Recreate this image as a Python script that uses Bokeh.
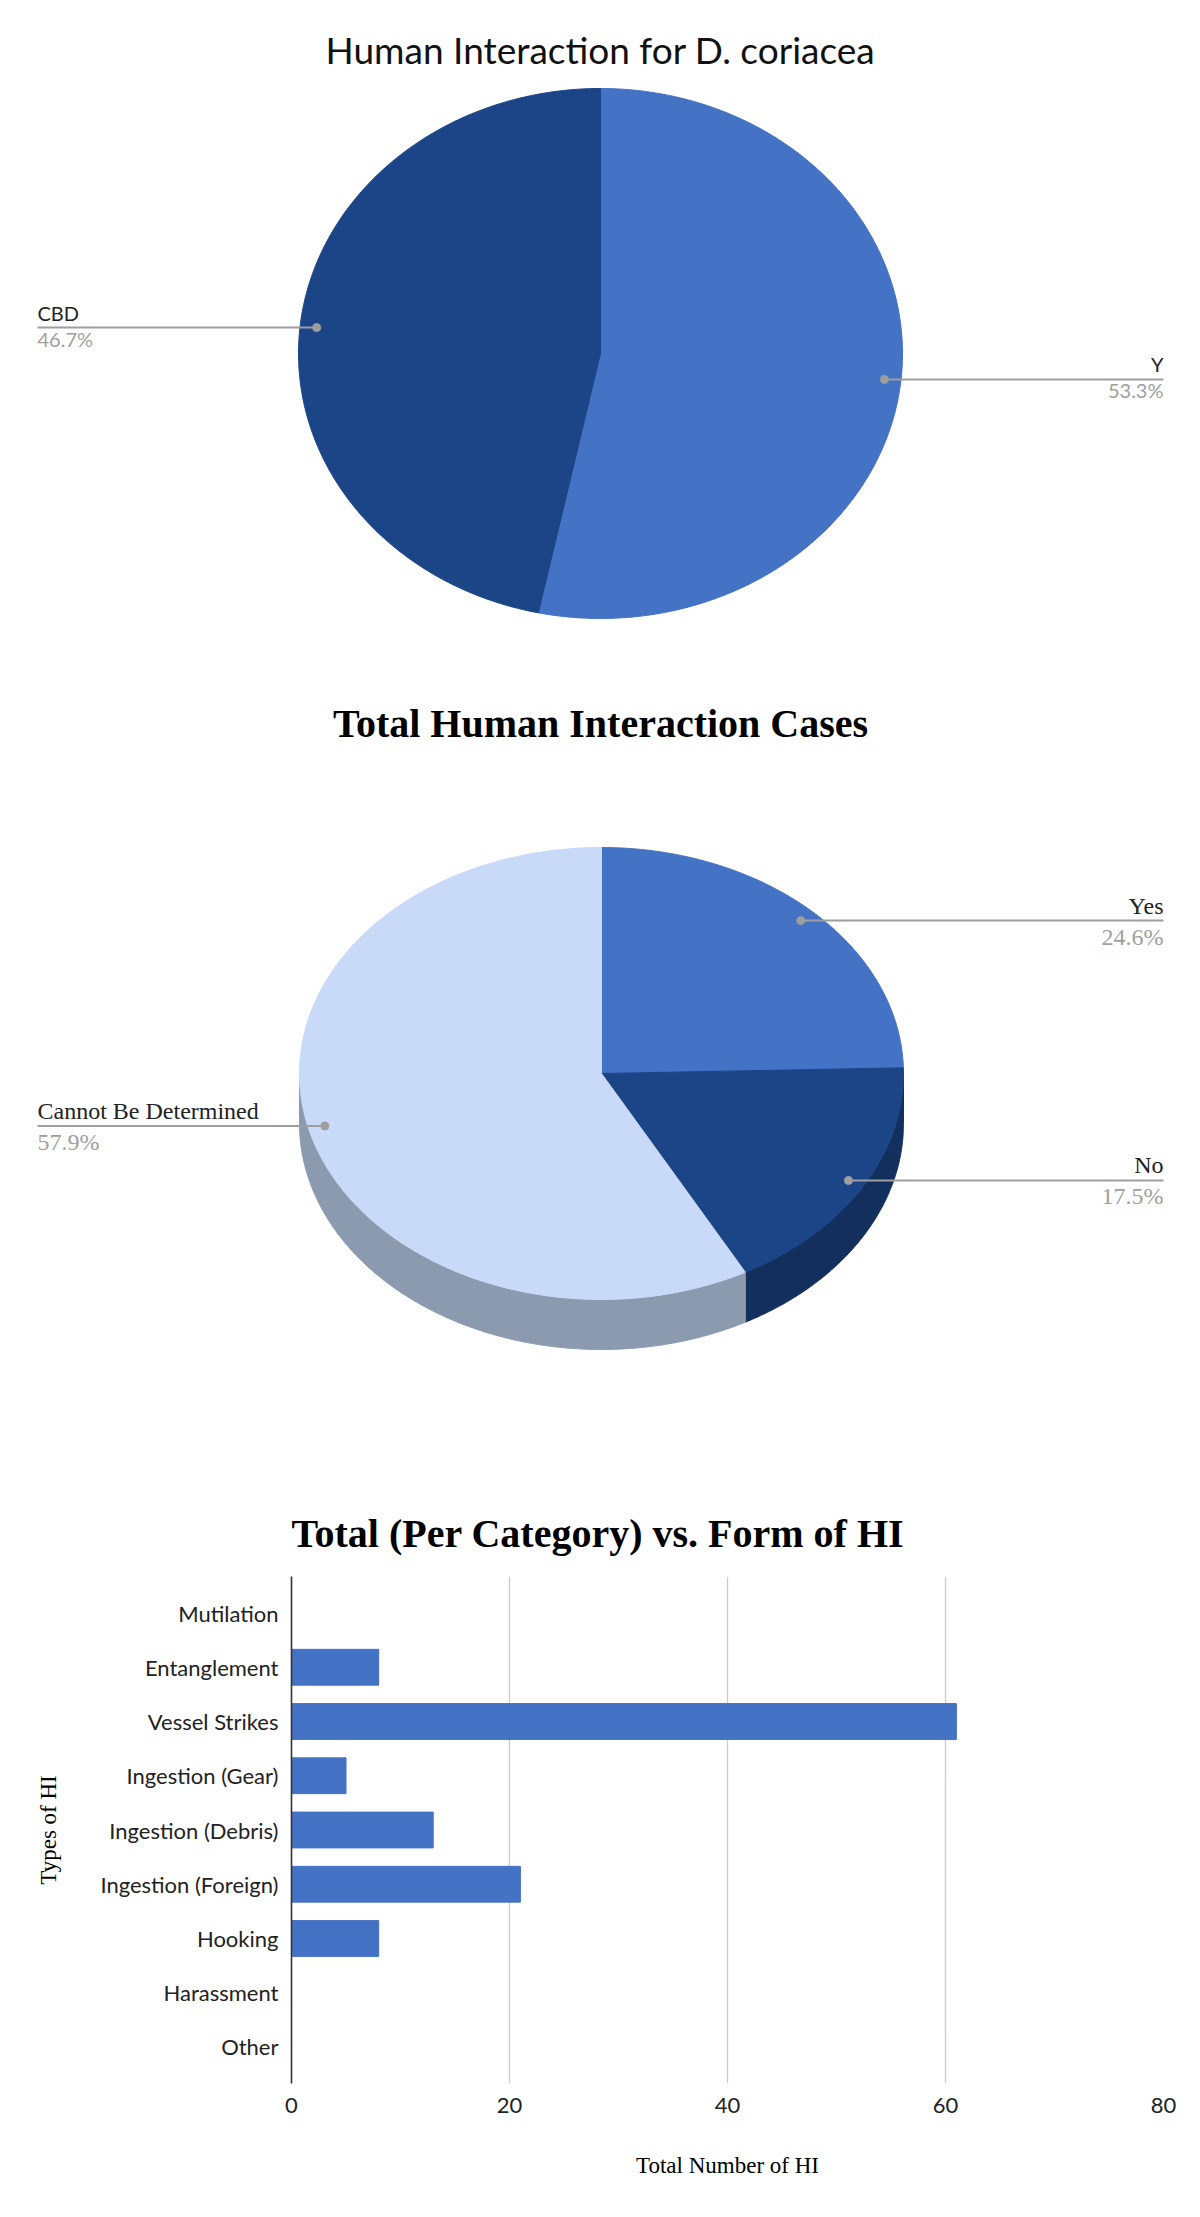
import numpy as np
from bokeh.plotting import figure
from bokeh.models import ColumnDataSource, Range1d, FactorRange, FixedTicker
from bokeh.layouts import column
from bokeh.core.properties import value
from bokeh.embed import file_html
from bokeh.resources import INLINE

# ---------------- data ----------------
dc_title = "Human Interaction for D. coriacea"
dc_labels = ["Y", "CBD"]
dc_pct = [53.3, 46.7]
dc_colors = ["#4472C4", "#1C4587"]

tot_title = "Total Human Interaction Cases"
tot_labels = ["Yes", "No", "Cannot Be Determined"]
tot_pct = [24.6, 17.5, 57.9]
tot_colors = ["#4472C4", "#1C4587", "#C9DAF8"]
tot_side_colors = ["#2E5190", "#132F5E", "#8C9AB0"]

bar_title = "Total (Per Category) vs. Form of HI"
hi_types = ["Mutilation", "Entanglement", "Vessel Strikes", "Ingestion (Gear)",
            "Ingestion (Debris)", "Ingestion (Foreign)", "Hooking", "Harassment", "Other"]
hi_counts = [0, 8, 61, 5, 13, 21, 8, 0, 0]
x_ticks = [0, 20, 40, 60, 80]
x_label = "Total Number of HI"
y_label = "Types of HI"

# ---------------- layout constants ----------------
W = 1200
LINE_GRAY = "#9E9E9E"
LEFT_EDGE, RIGHT_EDGE = 37, 1163


def arc(cx, cy, rx, ry, t0, t1, n=240):
    t = np.radians(np.linspace(t0, t1, n))
    return cx + rx * np.sin(t), cy - ry * np.cos(t)


def slice_bounds(pcts):
    cum = np.concatenate([[0.0], np.cumsum(pcts)])
    return cum[:-1] * 3.6, cum[1:] * 3.6


def pie_figure(height, top):
    p = figure(width=W, height=height, x_range=Range1d(0, W),
               y_range=Range1d(top + height, top), output_backend="svg",
               toolbar_location=None, min_border=0, outline_line_color=None,
               x_axis_type=None, y_axis_type=None)
    p.frame_align = False
    return p


def draw_pie(p, cx, cy, rx, ry, pcts, labels, colors, side_colors=None, depth=0,
             font="Lato", size="18px", name_dy=-15, pct_dy=12):
    a0, a1 = slice_bounds(pcts)
    # 3D side faces (front half only)
    if depth > 0:
        sx, sy, sc = [], [], []
        for s, e, c in zip(a0, a1, side_colors):
            lo, hi = max(s, 90.0), min(e, 270.0)
            if hi > lo:
                ax, ay = arc(cx, cy, rx, ry, lo, hi)
                sx.append(list(ax) + list(ax[::-1]))
                sy.append(list(ay) + list((ay + depth)[::-1]))
                sc.append(c)
        p.patches(xs=sx, ys=sy, fill_color=sc, line_color=sc, line_width=1)
    xs, ys = [], []
    for s, e in zip(a0, a1):
        ax, ay = arc(cx, cy, rx, ry, s, e)
        xs.append([cx] + list(ax))
        ys.append([cy] + list(ay))
    p.patches(xs=xs, ys=ys, fill_color=colors, line_color=colors, line_width=1)

    # leader lines and labels
    mid = np.radians((a0 + a1) / 2)
    k = 0.945
    dx = cx + k * rx * np.sin(mid)
    dy = cy - k * ry * np.cos(mid)
    right = np.sin(mid) > 0
    edge = np.where(right, RIGHT_EDGE, LEFT_EDGE)
    p.segment(x0=dx, y0=dy, x1=edge, y1=dy, line_color=LINE_GRAY, line_width=2)
    p.scatter(x=dx, y=dy, size=8, color=LINE_GRAY)
    for i in range(len(labels)):
        align = "right" if right[i] else "left"
        p.text(x=[edge[i]], y=[dy[i] + name_dy], text=[labels[i]], text_align=align,
               text_baseline="alphabetic", text_font=value(font),
               text_font_size=size, text_color="#222222")
        p.text(x=[edge[i]], y=[dy[i] + pct_dy], text=[f"{pcts[i]:.1f}%"], text_align=align,
               text_baseline="alphabetic", text_font=value(font),
               text_font_size=size, text_color="#A0A0A0")


# ---------------- chart 1 ----------------
p1 = pie_figure(688, 0)
p1.text(x=[600], y=[49], text=[dc_title], text_align="center", text_baseline="alphabetic",
        text_font=value("Lato"), text_font_size="37px", text_color="#111111")
draw_pie(p1, 600, 353, 302, 265, dc_pct, dc_labels, dc_colors, font="Lato", size="20px",
         name_dy=-15, pct_dy=11)

# ---------------- chart 2 ----------------
p2 = pie_figure(770, 688)
p2.text(x=[600], y=[723], text=[tot_title], text_align="center", text_baseline="alphabetic",
        text_font=value("Liberation Serif"), text_font_style="bold",
        text_font_size="40px", text_color="#000000")
draw_pie(p2, 601, 1073, 302, 226, tot_pct, tot_labels, tot_colors,
         side_colors=tot_side_colors, depth=50, font="Liberation Serif", size="24px",
         name_dy=-15, pct_dy=16)

# ---------------- chart 3 ----------------
p3 = figure(width=W, height=759,
            y_range=FactorRange(factors=hi_types[::-1], range_padding=0.173,
                                range_padding_units="absolute"),
            x_range=Range1d(0, 80), output_backend="svg", toolbar_location=None,
            min_border_left=291, min_border_right=37, min_border_top=118,
            min_border_bottom=134, outline_line_color=None)
p3.frame_align = False
src = ColumnDataSource(dict(types=hi_types, counts=hi_counts))
p3.hbar(y="types", right="counts", height=0.66, source=src, color="#4472C4")

p3.title.text = bar_title
p3.title.text_font = "Liberation Serif"
p3.title.text_font_style = "bold"
p3.title.text_font_size = "40px"
p3.title.align = "left"
p3.title.offset = 0
p3.title.standoff = 41
p3.title.text_color = "#000000"

p3.xaxis.ticker = FixedTicker(ticks=x_ticks)
p3.xaxis.axis_line_color = None
p3.xaxis.major_tick_line_color = None
p3.xaxis.minor_tick_line_color = None
p3.xaxis.major_label_text_font = "Lato"
p3.xaxis.major_label_text_font_size = "22px"
p3.xaxis.major_label_text_color = "#222222"
p3.xaxis.major_label_standoff = 8
p3.xaxis.axis_label = x_label
p3.xaxis.axis_label_text_font = "Liberation Serif"
p3.xaxis.axis_label_text_font_style = "normal"
p3.xaxis.axis_label_text_font_size = "23px"
p3.xaxis.axis_label_text_color = "#000000"
p3.xaxis.axis_label_standoff = 37

p3.yaxis.axis_line_color = "#333333"
p3.yaxis.axis_line_width = 1.6
p3.yaxis.major_tick_line_color = None
p3.yaxis.minor_tick_line_color = None
p3.yaxis.major_label_text_font = "Lato"
p3.yaxis.major_label_text_font_size = "22px"
p3.yaxis.major_label_text_color = "#222222"
p3.yaxis.major_label_standoff = 7
p3.yaxis.axis_label = y_label
p3.yaxis.axis_label_text_font = "Liberation Serif"
p3.yaxis.axis_label_text_font_style = "normal"
p3.yaxis.axis_label_text_font_size = "23px"
p3.yaxis.axis_label_text_color = "#000000"
p3.yaxis.axis_label_standoff = 36

p3.ygrid.grid_line_color = None
p3.xgrid.ticker = FixedTicker(ticks=x_ticks)
p3.xgrid.grid_line_color = "#CCCCCC"
p3.xgrid.grid_line_width = 1.3

layout = column(p1, p2, p3)
open("out.html", "w").write(file_html(layout, INLINE))
